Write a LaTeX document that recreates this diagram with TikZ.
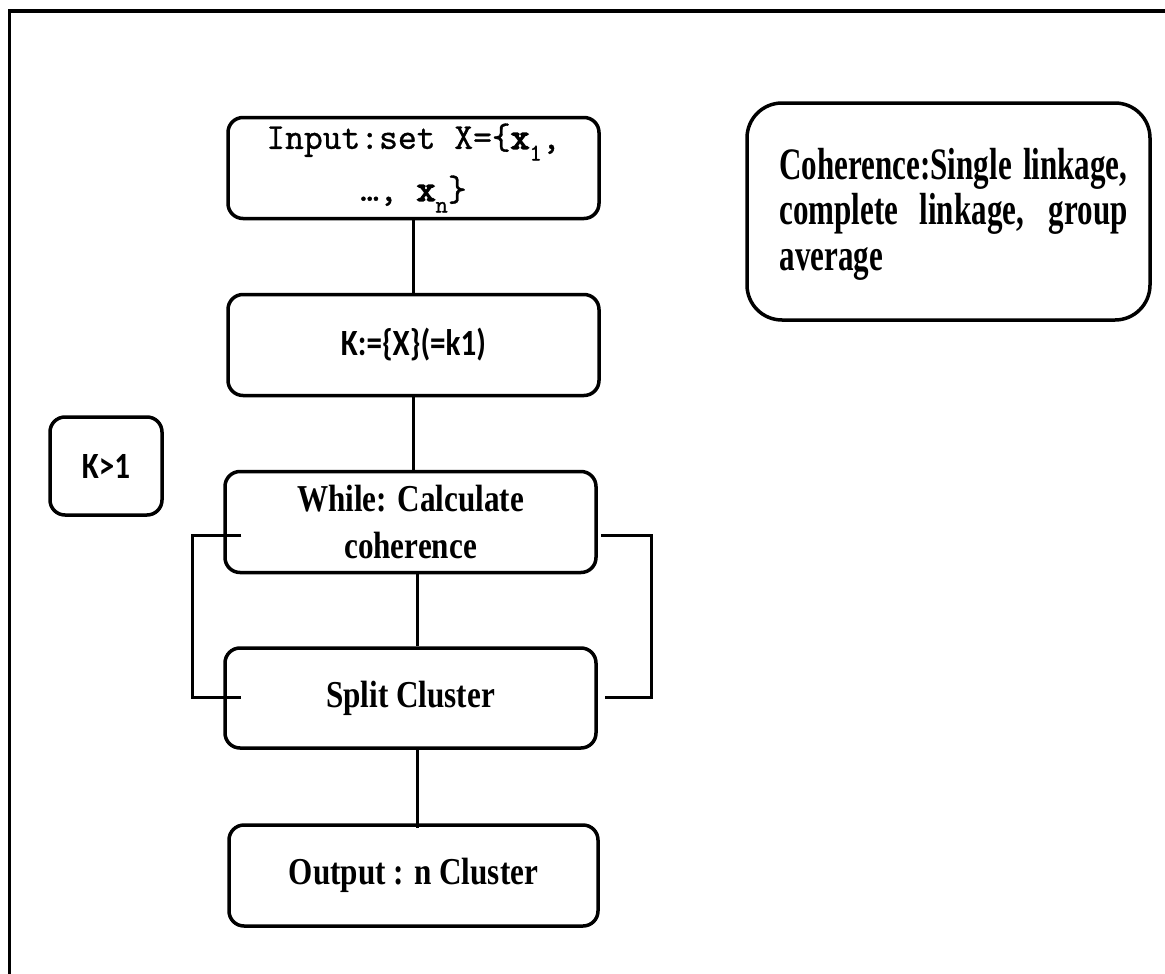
\documentclass[tikz,border=0pt]{standalone}
\usepackage{fontspec}
\newfontfamily\serifbold[FakeStretch=0.82]{Liberation Serif}
\newfontfamily\serifnarrow[FakeStretch=0.69]{Liberation Serif}
\newfontfamily\monotxt[FakeBold=1]{Latin Modern Mono}
\newfontfamily\monobold[FakeBold=4]{Latin Modern Mono}
\newfontfamily\carlito[FakeStretch=0.84]{Carlito}
\newcommand\lowsub[1]{\raisebox{-0.32em}{\fontsize{24}{24}\selectfont #1}}
\newcommand\bx{{\monobold x}}

\begin{document}
\begin{tikzpicture}[x=1pt,y=-1pt,
  box/.style={draw, line width=3.5pt, rounded corners=15pt, minimum width=371pt,
              minimum height=101pt, inner sep=0pt, align=center},
  link/.style={line width=3pt},
  tnr/.style={font=\serifbold\bfseries\fontsize{38}{47}\selectfont},
  cal/.style={font=\carlito\bfseries\fontsize{37}{44}\selectfont},
  mono/.style={font=\monotxt\fontsize{36.5}{52}\selectfont}]

\useasboundingbox (0,0) rectangle (1165,974);

% outer frame (top and left edges)
\draw[line width=3.5pt] (1170,11) -- (9.5,11) -- (9.5,980);

% main flow
\node[box, mono] (input) at (413.5,168)
  {Input:set X=\{\bx\lowsub{1},\\ …, \bx\lowsub{n}\}};
\node[box, cal] (kinit) at (413.5,345) {K:=\{X\}(=k1)};
\node[box, tnr] (while) at (410.5,522) {While: Calculate\\coherence};
\node[box, tnr, minimum height=100pt] (split) at (410.5,698) {Split Cluster};
\node[box, tnr, minimum width=369pt] (output) at (413.5,875.5) {Output : n Cluster};

% side notes
\node[box, cal, minimum width=112pt, minimum height=98pt] (kgt) at (106,466) {K>1};
\node[box, rounded corners=35pt, minimum width=403pt, minimum height=217pt]
  (coh) at (948.5,211.5) {};
\node[text width=348pt, align=justify, inner sep=0pt,
      font=\serifnarrow\bfseries\fontsize{45}{45.5}\selectfont]
  (cohtext) at (953.5,214)
  {Coherence:Single linkage,\linebreak complete linkage, group\linebreak average};

% connectors
\draw[link] (input.south) -- (kinit.north);
\draw[link] (kinit.south) -- (kinit.south |- while.north);
\draw[link] ([xshift=6.5pt]while.south) -- ([xshift=6.5pt]while.south |- split.north);
\draw[link] ([xshift=6.5pt]split.south) -- ([xshift=6.5pt,yshift=-5pt]split.south |- output.north);

% loop brackets around the while/split pair
\draw[link] ([xshift=18pt,yshift=-13pt]while.west) -- ++(-49,0) |- ([xshift=18pt,yshift=1pt]split.west);
\draw[link] ([xshift=3pt,yshift=-13pt]while.east) -- ++(51,0) |- ([xshift=7pt,yshift=1pt]split.east);
\end{tikzpicture}
\end{document}
